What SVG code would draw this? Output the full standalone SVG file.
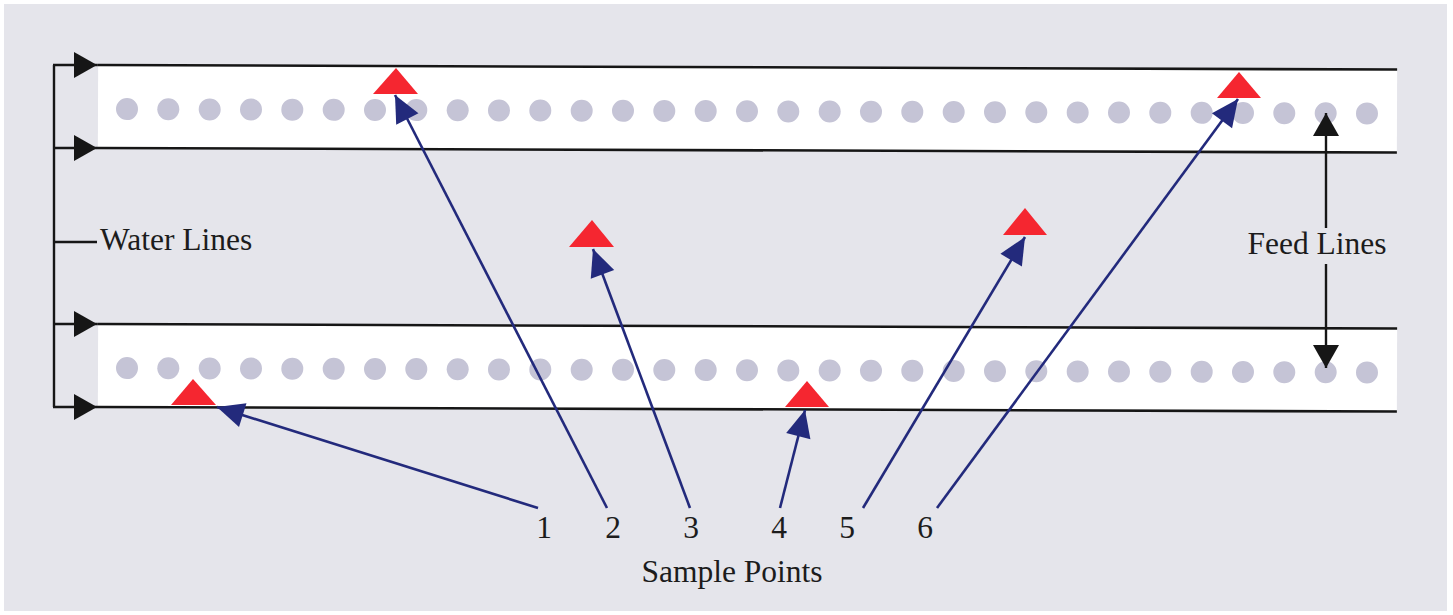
<svg xmlns="http://www.w3.org/2000/svg" width="1453" height="615" viewBox="0 0 1453 615">
<style>
.bg{fill:#e5e5eb}
.band{fill:#ffffff}
.bl{stroke:#161616;stroke-width:2.6;fill:none}
.dot{fill:#c5c4d6}
.tri{fill:#f52630}
.blue{stroke:#232a7c;stroke-width:2.6;fill:none;marker-end:url(#bh)}
.blk{stroke:#161616;stroke-width:2.4;fill:none}
.t{font-family:"Liberation Serif","Times New Roman",serif;font-size:31.5px;fill:#1c1c1c}
</style>
<defs>
<marker id="bh" markerUnits="userSpaceOnUse" markerWidth="30" markerHeight="28" refX="27" refY="12.5" orient="auto" overflow="visible">
<path d="M0,0 L27,12.5 L0,25 z" fill="#232a7c"/>
</marker>
<marker id="kh" markerUnits="userSpaceOnUse" markerWidth="26" markerHeight="28" refX="23" refY="13" orient="auto" overflow="visible">
<path d="M0,0 L23,13 L0,26 z" fill="#161616"/>
</marker>
<g id="dots">
<circle class="dot" cx="127" cy="0" r="11"/><circle class="dot" cx="168.3" cy="0" r="11"/><circle class="dot" cx="209.7" cy="0" r="11"/><circle class="dot" cx="251" cy="0" r="11"/><circle class="dot" cx="292.3" cy="0" r="11"/><circle class="dot" cx="333.7" cy="0" r="11"/><circle class="dot" cx="375" cy="0" r="11"/><circle class="dot" cx="416.3" cy="0" r="11"/><circle class="dot" cx="457.7" cy="0" r="11"/><circle class="dot" cx="499" cy="0" r="11"/><circle class="dot" cx="540.3" cy="0" r="11"/><circle class="dot" cx="581.7" cy="0" r="11"/><circle class="dot" cx="623" cy="0" r="11"/><circle class="dot" cx="664.3" cy="0" r="11"/><circle class="dot" cx="705.7" cy="0" r="11"/><circle class="dot" cx="747" cy="0" r="11"/><circle class="dot" cx="788.3" cy="0" r="11"/><circle class="dot" cx="829.7" cy="0" r="11"/><circle class="dot" cx="871" cy="0" r="11"/><circle class="dot" cx="912.3" cy="0" r="11"/><circle class="dot" cx="953.7" cy="0" r="11"/><circle class="dot" cx="995" cy="0" r="11"/><circle class="dot" cx="1036.3" cy="0" r="11"/><circle class="dot" cx="1077.7" cy="0" r="11"/><circle class="dot" cx="1119" cy="0" r="11"/><circle class="dot" cx="1160.3" cy="0" r="11"/><circle class="dot" cx="1201.7" cy="0" r="11"/><circle class="dot" cx="1243" cy="0" r="11"/><circle class="dot" cx="1284.3" cy="0" r="11"/><circle class="dot" cx="1325.7" cy="0" r="11"/><circle class="dot" cx="1367" cy="0" r="11"/>
</g>
</defs>
<rect width="1453" height="615" fill="#ffffff"/>
<rect class="bg" x="4" y="4" width="1443" height="607"/>

<g id="feed-line-top" transform="rotate(0.2 98 109)">
<rect class="band" x="98" y="65" width="1299" height="83"/>
<line class="bl" x1="97" y1="65" x2="1397" y2="65"/>
<line class="bl" x1="97" y1="148" x2="1397" y2="148"/>
<use href="#dots" y="109"/>
</g>
<g id="feed-line-bottom" transform="rotate(0.2 98 368)">
<rect class="band" x="98" y="324" width="1299" height="83"/>
<line class="bl" x1="97" y1="324" x2="1397" y2="324"/>
<line class="bl" x1="97" y1="407" x2="1397" y2="407"/>
<use href="#dots" y="368"/>
</g>

<g id="sample-points">
<polygon id="sp1" class="tri" points="193,379 216,405 171,405"/>
<polygon id="sp2" class="tri" points="396,68 418,94 373,94"/>
<polygon id="sp3" class="tri" points="592,220 614,247 569,247"/>
<polygon id="sp4" class="tri" points="807,381 829,407 785,407"/>
<polygon id="sp5" class="tri" points="1025,208 1047,235 1003,235"/>
<polygon id="sp6" class="tri" points="1239,72 1261,98 1217,98"/>
</g>

<g id="connectors">
<line class="blk" x1="54" y1="65" x2="54" y2="407"/>
<line class="blk" x1="53" y1="65" x2="97" y2="65" marker-end="url(#kh)"/>
<line class="blk" x1="53" y1="148" x2="97" y2="148" marker-end="url(#kh)"/>
<line class="blk" x1="53" y1="324" x2="97" y2="324" marker-end="url(#kh)"/>
<line class="blk" x1="53" y1="407" x2="97" y2="407" marker-end="url(#kh)"/>
<line class="blk" x1="54" y1="242" x2="97" y2="242"/>
<line class="blk" x1="1326" y1="228" x2="1326" y2="113" marker-end="url(#kh)"/>
<line class="blk" x1="1326" y1="264" x2="1326" y2="368" marker-end="url(#kh)"/>
<line class="blue" x1="538" y1="508" x2="217" y2="407"/>
<line class="blue" x1="607" y1="508" x2="395" y2="95"/>
<line class="blue" x1="690" y1="508" x2="593" y2="249"/>
<line class="blue" x1="780" y1="508" x2="805" y2="410"/>
<line class="blue" x1="863" y1="508" x2="1025" y2="237"/>
<line class="blue" x1="937" y1="508" x2="1238" y2="99"/>
</g>

<g id="labels">
<text id="water-lines" class="t" x="100" y="250">Water Lines</text>
<text id="feed-lines" class="t" x="1317" y="254" text-anchor="middle">Feed Lines</text>
<text class="t" x="544" y="538" text-anchor="middle">1</text>
<text class="t" x="613" y="538" text-anchor="middle">2</text>
<text class="t" x="691" y="538" text-anchor="middle">3</text>
<text class="t" x="779" y="538" text-anchor="middle">4</text>
<text class="t" x="847" y="538" text-anchor="middle">5</text>
<text class="t" x="925" y="538" text-anchor="middle">6</text>
<text id="sample-points-label" class="t" x="732" y="582" text-anchor="middle">Sample Points</text>
</g>
</svg>
